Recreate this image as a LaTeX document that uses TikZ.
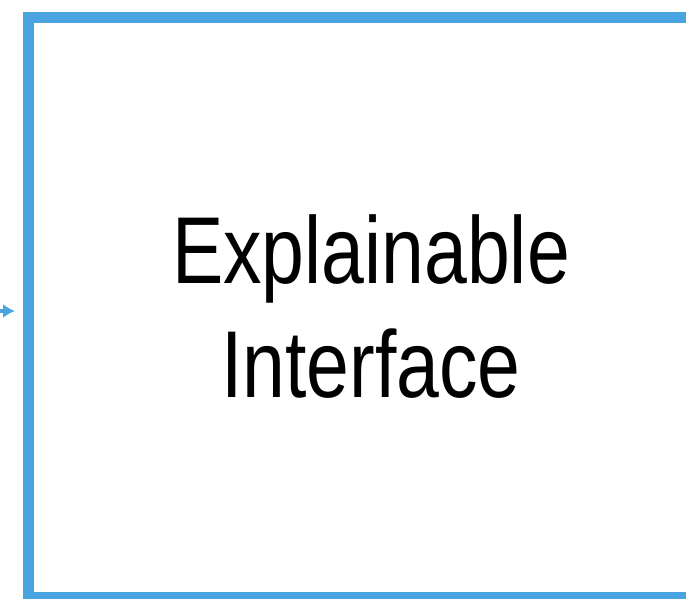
\documentclass[tikz,border=0pt]{standalone}
\usepackage{fontspec}
\usetikzlibrary{arrows.meta}
\newfontfamily\labfont[FakeStretch=0.81]{Liberation Sans}
\definecolor{boxblue}{RGB}{74,164,224}
\begin{document}
\begin{tikzpicture}[x=1pt,y=-1pt,
  boxstyle/.style={draw=boxblue,line width=11pt,minimum width=690pt,minimum height=580pt,inner sep=0pt,outer sep=0pt,anchor=north west},
  labstyle/.style={font=\labfont\fontsize{95}{114}\selectfont,anchor=base,inner sep=0pt},
  arrowstyle/.style={draw=boxblue,line width=4pt,-{Latex[length=12pt,width=14pt]}}]
\useasboundingbox (0,0) rectangle (686,599);
\clip (0,0) rectangle (686,599);
\node[boxstyle] (box) at (28,17.5) {};
\node[labstyle] (l1) at (371,283) {Explainable};
\node[labstyle] (l2) at (371,397) {Interface};
\coordinate (src) at (-30,311);
\draw[arrowstyle,shorten >=13pt] (src) -- (box.west |- src);
\end{tikzpicture}
\end{document}
